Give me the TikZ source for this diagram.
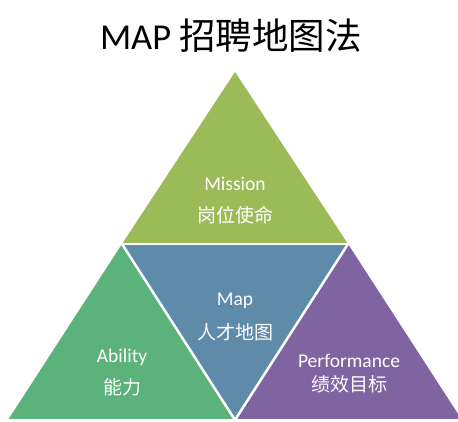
\documentclass[tikz,border=0pt]{standalone}
\usepackage{fontspec}
\setmainfont{Carlito}
\newfontfamily\cjk{Noto Sans CJK SC}
\definecolor{cmission}{HTML}{9BBB59}
\definecolor{cmap}{HTML}{5E8BAA}
\definecolor{cability}{HTML}{5BB27A}
\definecolor{cperf}{HTML}{8064A2}
\begin{document}
\begin{tikzpicture}[x=1pt,y=-1pt,
  lbl/.style={text=white,font=\fontsize{19.5}{21}\selectfont,inner sep=0pt},
  clbl/.style={text=white,font=\fontsize{19}{21}\selectfont\cjk,inner sep=0pt}]
\useasboundingbox (0,0) rectangle (458,422);
\clip (0,0) rectangle (458,422);
% triangles
\fill[cmission] (235,72) -- (122,244) -- (348,244) -- cycle;
\fill[cmap] (122,244) -- (348,244) -- (235,418) -- cycle;
\fill[cability] (122,244) -- (8,420) -- (235,420) -- cycle;
\fill[cperf] (348,244) -- (235,420) -- (462,420) -- cycle;
\draw[draw=white,line width=2.5pt] (122,244) -- (348,244);
\draw[draw=white,line width=2.5pt] (122,244) -- (235,420) -- (348,244);
\draw[draw=white,line width=2.5pt] (0,420.5) -- (458,420.5);
% title
\node[inner sep=0pt] (title) at (231,36) {\fontsize{36.5}{40}\selectfont MAP {\cjk 招聘地图法}};
% labels
\node[lbl] (mission) at (235,184) {Mission};
\node[clbl] (missioncn) at (235,215) {岗位使命};
\node[lbl] (map) at (235,301) {Map};
\node[clbl] (mapcn) at (235,332) {人才地图};
\node[lbl] (ability) at (122,357) {Ability};
\node[clbl] (abilitycn) at (122,387) {能力};
\node[lbl] (perf) at (349,361) {Performance};
\node[clbl] (perfcn) at (349,384) {绩效目标};
\end{tikzpicture}
\end{document}
